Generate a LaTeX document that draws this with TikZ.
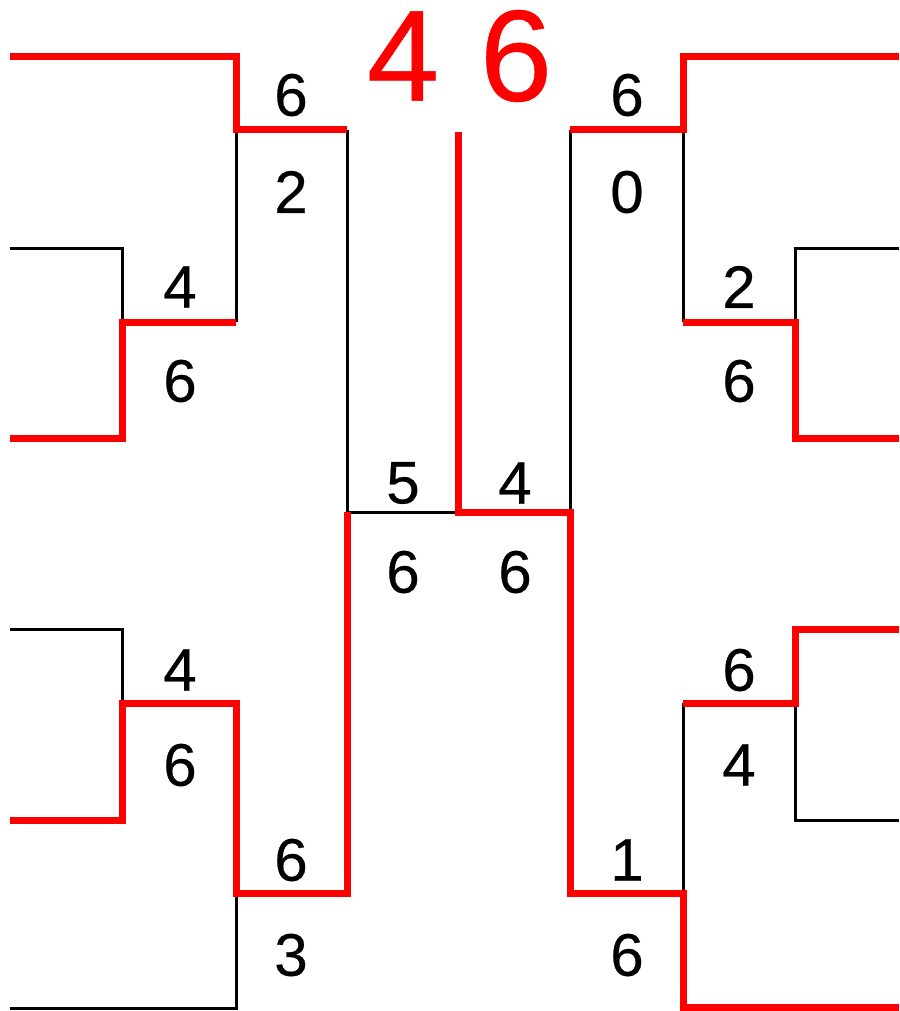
\documentclass[tikz,border=0pt]{standalone}
\usepackage{fontspec}
\setmainfont{Liberation Sans}
\newfontfamily\labelfont[FakeBold=0.4]{Liberation Sans}
\begin{document}
\begin{tikzpicture}[x=1pt,y=-1pt,
  win/.style={red,line width=7pt},
  lose/.style={black,line width=3pt},
  lbl/.style={font=\labelfont\fontsize{60}{60}\selectfont, inner sep=0pt},
  big/.style={font=\labelfont\fontsize{130}{130}\selectfont, text=red, inner sep=0pt}]
\useasboundingbox (0,0) rectangle (899,1011);
% leaves
\coordinate (a1) at (10,57);  \coordinate (a2) at (10,248); \coordinate (a3) at (10,438);
\coordinate (a4) at (10,629); \coordinate (a5) at (10,820); \coordinate (a6) at (10,1008);
\coordinate (b1) at (899,57); \coordinate (b2) at (899,248); \coordinate (b3) at (899,438);
\coordinate (b4) at (899,629); \coordinate (b5) at (899,820); \coordinate (b6) at (899,1007);
% matches
\coordinate (mA) at (122,322); \coordinate (mB) at (236,130); \coordinate (mC) at (122,703);
\coordinate (mD) at (236,893); \coordinate (mE) at (347,512);
\coordinate (nA) at (795,322); \coordinate (nB) at (683,130); \coordinate (nC) at (795,703);
\coordinate (nD) at (683,893); \coordinate (nE) at (570,512);
\coordinate (f) at (458,512); \coordinate (top) at (458,132);
% losing lines
\draw[lose] (mB) -- (mB |- mA);
\draw[lose] (a2) -| (mA);
\draw[lose] (mB -| mE) -- (mE) -- (f);
\draw[lose] (nE |- nB) -- (nE);
\draw[lose] (nB) -- (nB |- nA);
\draw[lose] (b2) -| (nA);
\draw[lose] (a4) -| (mC);
\draw[lose] (mD) |- (a6);
\draw[lose] (nC) |- (b5);
\draw[lose] (nD |- nC) -- (nD);
% winning lines
\draw[win] (a1) -| (mB) -- (mB -| mE);
\draw[win] (a3) -| (mA) -- (mA -| mB);
\draw[win] (b1) -| (nB) -- (nB -| nE);
\draw[win] (b3) -| (nA) -- (nA -| nB);
\draw[win] (b4) -| (nC) -- (nC -| nD);
\draw[win] (a5) -| (mC) -- (mC -| mD) -- (mD) -- (mD -| mE) -- (mE);
\draw[win] (top) -- (f) -- (nE) -- (nE |- nD) -- (nD) |- (b6);
% scores
\node[big] (s1) at (403,56) {4};
\node[big] (s2) at (516,56) {6};
\node[lbl] (l1) at (291,95) {6};  \node[lbl] (l2) at (291,192) {2};
\node[lbl] (l3) at (180,287) {4}; \node[lbl] (l4) at (180,381) {6};
\node[lbl] (l5) at (403,483) {5}; \node[lbl] (l6) at (403,572) {6};
\node[lbl] (l7) at (515,483) {4}; \node[lbl] (l8) at (515,572) {6};
\node[lbl] (l9) at (627,95) {6};  \node[lbl] (l10) at (627,192) {0};
\node[lbl] (l11) at (739,287) {2}; \node[lbl] (l12) at (739,381) {6};
\node[lbl] (l13) at (180,670) {4}; \node[lbl] (l14) at (180,765) {6};
\node[lbl] (l15) at (291,860) {6}; \node[lbl] (l16) at (291,955) {3};
\node[lbl] (l17) at (739,670) {6}; \node[lbl] (l18) at (739,765) {4};
\node[lbl] (l19) at (627,860) {1}; \node[lbl] (l20) at (627,955) {6};
\end{tikzpicture}
\end{document}
